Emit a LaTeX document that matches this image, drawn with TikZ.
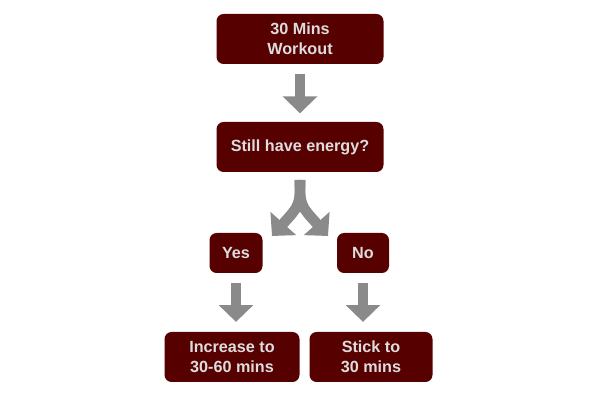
\documentclass[tikz,border=0pt]{standalone}
\usepackage{fontspec}
\setmainfont{Liberation Sans}
\usetikzlibrary{arrows.meta}
\definecolor{boxred}{HTML}{560000}
\definecolor{arrowgray}{HTML}{8A8A8A}
\definecolor{textgray}{HTML}{DDDDDD}
\tikzset{
  box/.style={fill=boxred, draw=none, rounded corners=5pt, text=textgray,
    font=\bfseries\fontsize{11.5}{14}\selectfont, align=center, inner sep=0pt},
  fat/.style={draw=arrowgray, line width=7.5pt,
    -{Triangle[length=12pt,width=24pt]}}
}
\begin{document}
\begin{tikzpicture}[x=0.025cm,y=-0.025cm]
  \useasboundingbox (0,0) rectangle (600,400);
  \node[box, minimum width=167*0.025cm, minimum height=50*0.025cm] (workout) at (300,39) {30 Mins\\Workout};
  \node[box, minimum width=167*0.025cm, minimum height=50*0.025cm] (energy) at (300,147) {Still have energy?};
  \node[box, minimum width=53*0.025cm, minimum height=40*0.025cm] (yes) at (236,253) {Yes};
  \node[box, minimum width=52*0.025cm, minimum height=40*0.025cm] (no) at (363,253) {No};
  \node[box, minimum width=135*0.025cm, minimum height=50*0.025cm] (increase) at (232,357) {Increase to\\30-60 mins};
  \node[box, minimum width=123*0.025cm, minimum height=50*0.025cm] (stick) at (371,357) {Stick to\\30 mins};

  \coordinate (fork) at (300,180);
  \draw[fat] ([yshift=-7pt]workout.south) -- ([yshift=6pt]energy.north);
  \draw[fat] (fork) .. controls (300,205) .. (272,236);
  \draw[fat] (fork) .. controls (300,205) .. (328,236);
  \draw[fat] ([yshift=-7pt]yes.south) -- ([yshift=7pt]yes.south |- increase.north);
  \draw[fat] ([yshift=-7pt]no.south) -- ([yshift=7pt]no.south |- stick.north);
\end{tikzpicture}
\end{document}
